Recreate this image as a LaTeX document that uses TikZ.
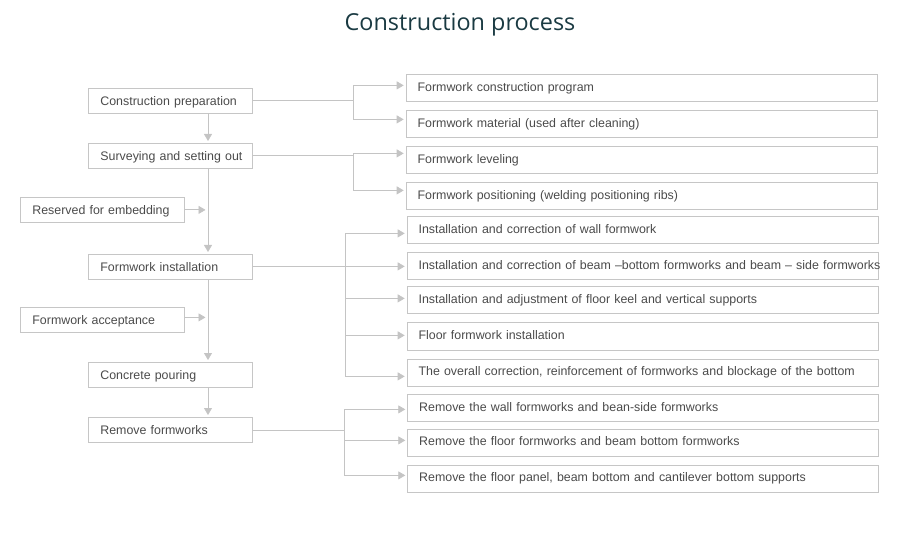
\documentclass[tikz,border=0pt]{standalone}
\usepackage{fontspec}
\setmainfont{Liberation Sans}
\newfontfamily\titlefont{Open Sans}
\usetikzlibrary{arrows.meta}
\definecolor{linec}{HTML}{C4C4C4}
\definecolor{boxc}{HTML}{C6C6C6}
\definecolor{txtc}{HTML}{4A4A4A}
\definecolor{titlec}{HTML}{1A3A42}
\begin{document}
\begin{tikzpicture}[x=1pt,y=-1pt,
  base/.style={draw=boxc, line width=0.8pt, text=txtc, font=\fontsize{12.4}{14}\selectfont, anchor=north west, inner ysep=0pt},
  lbox/.style={base, inner xsep=12pt, text width=140pt, align=left, minimum height=25pt, text height=8.8pt, text depth=0pt},
  rbox/.style={base, inner xsep=11.5pt, text width=448pt, align=left, minimum height=27pt, text height=17pt, text depth=10pt},
  line/.style={draw=linec, line width=0.8pt},
  arr/.style={line, -{Triangle[length=7pt,width=8pt]}, shorten >=2pt}]
\useasboundingbox (0,0) rectangle (897,537);

\node[font=\titlefont\fontsize{23.4}{28}\selectfont, text=titlec] (title) at (460,24.5) {Construction process};

% left column
\node[lbox] (prep) at (88,88) {\mbox{Construction preparation}};
\node[lbox] (survey) at (88,143) {\mbox{Surveying and setting out}};
\node[lbox] (install) at (88,254) {\mbox{Formwork installation}};
\node[lbox] (pour) at (88,362) {\mbox{Concrete pouring}};
\node[lbox] (remove) at (88,417) {\mbox{Remove formworks}};
\node[lbox] (reserve) at (20,197) {\mbox{Reserved for embedding}};
\node[lbox] (accept) at (20,307) {\mbox{Formwork acceptance}};

% right column
\node[rbox] (r1) at (405.7,74.5) {\mbox{Formwork construction program}};
\node[rbox] (r2) at (405.7,110.5) {\mbox{Formwork material (used after cleaning)}};
\node[rbox] (r3) at (405.7,146.5) {\mbox{Formwork leveling}};
\node[rbox] (r4) at (405.7,182.5) {\mbox{Formwork positioning (welding positioning ribs)}};
\node[rbox] (r5) at (406.7,216) {\mbox{Installation and correction of wall formwork}};
\node[rbox] (r6) at (406.7,252.5) {\mbox{Installation and correction of beam –bottom formworks and beam – side formworks}};
\node[rbox] (r7) at (406.7,286.5) {\mbox{Installation and adjustment of floor keel and vertical supports}};
\node[rbox] (r8) at (406.7,322.5) {\mbox{Floor formwork installation}};
\node[rbox] (r9) at (406.7,358.5) {\mbox{The overall correction, reinforcement of formworks and blockage of the bottom}};
\node[rbox] (r10) at (407.3,394) {\mbox{Remove the wall formworks and bean-side formworks}};
\node[rbox] (r11) at (407.3,428.5) {\mbox{Remove the floor formworks and beam bottom formworks}};
\node[rbox] (r12) at (407.3,464.5) {\mbox{Remove the floor panel, beam bottom and cantilever bottom supports}};

% main trunk
\coordinate (tx) at (208,0);
\draw[arr] (prep.south -| tx) -- (survey.north -| tx);
\draw[arr] (survey.south -| tx) -- (install.north -| tx);
\draw[arr] (install.south -| tx) -- (pour.north -| tx);
\draw[arr] (pour.south -| tx) -- (remove.north -| tx);
\draw[arr, shorten >=2.5pt] (reserve.east) -- (reserve.east -| tx);
\draw[arr, shorten >=2.5pt] ([yshift=2.5pt]accept.east) -- ([yshift=2.5pt]accept.east -| tx);

% branches
\coordinate (ga) at (353,0);
\coordinate (gb) at (345.7,0);
\coordinate (gc) at (344.3,0);

\draw[line] (prep.east) -- (prep.east -| ga);
\draw[arr] (prep.east -| ga) |- ([yshift=3pt]r1.west);
\draw[arr] (prep.east -| ga) |- ([yshift=5pt]r2.west);

\draw[line] (survey.east) -- (survey.east -| ga);
\draw[arr] (survey.east -| ga) |- ([yshift=7pt]r3.west);
\draw[arr] (survey.east -| ga) |- ([yshift=6pt]r4.west);

\draw[line] (install.east) -- (install.east -| gb);
\draw[arr] (install.east -| gb) |- ([yshift=-3.5pt]r5.west);
\draw[arr] (install.east -| gb) |- (r6.west);
\draw[arr] (install.east -| gb) |- ([yshift=2pt]r7.west);
\draw[arr] (install.east -| gb) |- ([yshift=1pt]r8.west);
\draw[arr] (install.east -| gb) |- ([yshift=-4pt]r9.west);

\draw[line] (remove.east) -- (remove.east -| gc);
\draw[arr] (remove.east -| gc) |- ([yshift=-1.5pt]r10.west);
\draw[arr] (remove.east -| gc) |- ([yshift=2pt]r11.west);
\draw[arr] (remove.east -| gc) |- ([yshift=3pt]r12.west);
\end{tikzpicture}
\end{document}
